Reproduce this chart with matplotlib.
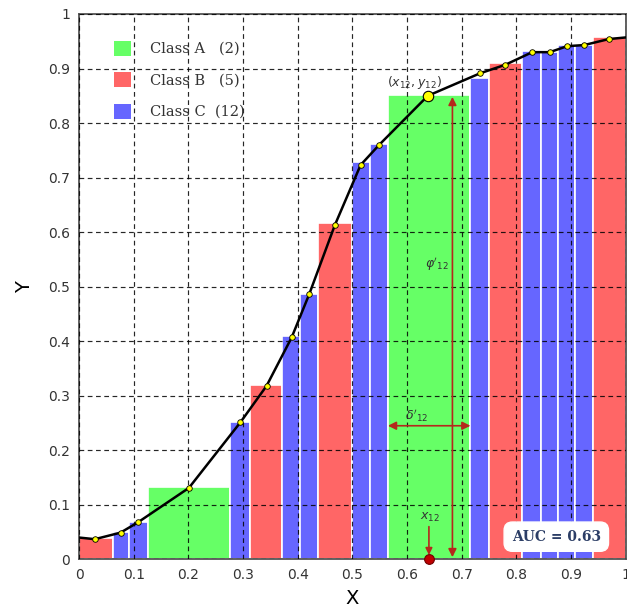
import matplotlib
matplotlib.use("Agg")
import matplotlib.pyplot as plt
from matplotlib.patches import Patch

# bar edges (19 bars) and heights
edges = [0, 0.062, 0.092, 0.127, 0.277, 0.312, 0.372, 0.405, 0.438, 0.500,
         0.533, 0.565, 0.716, 0.749, 0.810, 0.845, 0.876, 0.907, 0.941, 1.0]
heights = [0.040, 0.051, 0.069, 0.133, 0.252, 0.319, 0.410, 0.486, 0.616, 0.728,
           0.761, 0.851, 0.883, 0.910, 0.933, 0.931, 0.944, 0.943, 0.957]
classes = ['B', 'C', 'C', 'A', 'C', 'B', 'C', 'C', 'B', 'C',
           'C', 'A', 'C', 'B', 'C', 'C', 'C', 'C', 'B']

# sample points on the curve
dot_x = [0.029, 0.076, 0.108, 0.201, 0.295, 0.343, 0.389, 0.421, 0.468, 0.515,
         0.549, 0.638, 0.733, 0.780, 0.829, 0.861, 0.893, 0.924, 0.969]
dot_y = [0.037, 0.049, 0.068, 0.131, 0.251, 0.318, 0.407, 0.486, 0.613, 0.723,
         0.760, 0.850, 0.891, 0.907, 0.930, 0.930, 0.941, 0.943, 0.954]

# the curve itself (end points plus the dots)
curve_x = [0, 0.029, 0.076, 0.108, 0.201, 0.295, 0.343, 0.389, 0.421,
           0.468, 0.515, 0.549, 0.638, 0.733, 0.780, 0.829, 0.861, 0.893,
           0.924, 0.969, 1.0]
curve_y = [0.040, 0.037, 0.049, 0.068, 0.131, 0.251, 0.318, 0.407, 0.486,
           0.613, 0.723, 0.760, 0.850, 0.891, 0.907, 0.930, 0.930, 0.941,
           0.943, 0.954, 0.957]

class_colors = {'A': '#66ff66', 'B': '#ff6666', 'C': '#6666ff'}
class_names = ['A', 'B', 'C']
ticks = [0, 0.1, 0.2, 0.3, 0.4, 0.5, 0.6, 0.7, 0.8, 0.9, 1]
tick_labels = ['0', '0.1', '0.2', '0.3', '0.4', '0.5', '0.6', '0.7', '0.8', '0.9', '1']

k = 11          # the highlighted bar (x_12)
x12 = 0.640
auc = 0.63
ARROW = '#b5281c'

fig = plt.figure(figsize=(6.27, 6.08), dpi=100)
ax = fig.add_axes([0.126, 0.080, 0.872, 0.897])

lefts = edges[:-1]
widths = [edges[i + 1] - edges[i] for i in range(len(heights))]
ax.bar(lefts, heights, width=widths, align='edge',
       color=[class_colors[c] for c in classes],
       edgecolor='white', linewidth=1.2, zorder=1)

ax.grid(True, color='black', linestyle=(0, (4, 3)), linewidth=0.85, alpha=0.85,
        zorder=2)
ax.set_axisbelow(False)

ax.plot(curve_x, curve_y, color='black', lw=1.8, zorder=4)
ax.plot(dot_x, dot_y, 'o', color='#ffff00', mec='black', mew=0.6, ms=4, zorder=5)
ax.plot([dot_x[k]], [dot_y[k]], 'o', color='#ffff00', mec='black', mew=0.8,
        ms=7.5, zorder=6)

# annotations around the highlighted bar
ax.annotate('', xy=(0.683, heights[k] - 0.003), xytext=(0.683, 0.004),
            arrowprops=dict(arrowstyle='<|-|>', color=ARROW, lw=1.2,
                            mutation_scale=12, shrinkA=0, shrinkB=0), zorder=6)
ax.annotate('', xy=(edges[k], 0.245), xytext=(edges[k + 1], 0.245),
            arrowprops=dict(arrowstyle='<|-|>', color=ARROW, lw=1.2,
                            mutation_scale=12, shrinkA=0, shrinkB=0), zorder=6)
ax.annotate('', xy=(x12, 0.008), xytext=(x12, 0.060),
            arrowprops=dict(arrowstyle='-|>', color=ARROW, lw=1.2,
                            mutation_scale=10, shrinkA=0, shrinkB=0), zorder=6)
ax.plot([x12], [0], 'o', color='#c00000', mec='#700000', mew=0.8, ms=7,
        clip_on=False, zorder=7)

ax.text(0.613, 0.875, r'$(x_{12}, y_{12})$', ha='center', va='center',
        fontsize=9, color='#333333')
ax.text(0.655, 0.541, r"$\varphi'_{12}$", ha='center', va='center',
        fontsize=9, color='#333333')
ax.text(0.617, 0.264, r"$\delta'_{12}$", ha='center', va='center',
        fontsize=9, color='#333333')
ax.text(0.642, 0.077, r'$x_{12}$', ha='center', va='center',
        fontsize=9, color='#333333')

ax.text(0.873, 0.0416, 'AUC = %.2f' % auc, ha='center', va='center',
        fontsize=10, fontweight='bold', family='DejaVu Serif', color='#2c3e66',
        zorder=8,
        bbox=dict(boxstyle='round,pad=0.55,rounding_size=0.6', fc='white',
                  ec='white'))

counts = [classes.count(c) for c in class_names]
handles = [Patch(facecolor=class_colors[c], edgecolor='none') for c in class_names]
labels = ['Class %s  %4s' % (c, '(%d)' % n) for c, n in zip(class_names, counts)]
leg = ax.legend(handles, labels, loc='upper left', bbox_to_anchor=(0.04, 0.975),
                frameon=False, prop={'family': 'DejaVu Serif', 'size': 10.5},
                handlelength=1.2, handleheight=1.2, handletextpad=1.3,
                labelspacing=1.1)
for t in leg.get_texts():
    t.set_color('#333333')

ax.set_xlim(0, 1)
ax.set_ylim(0, 1)
ax.set_xticks(ticks)
ax.set_xticklabels(tick_labels)
ax.set_yticks(ticks)
ax.set_yticklabels(tick_labels)
ax.tick_params(length=0, pad=6.5, labelsize=10, labelcolor='#333333')
for s in ax.spines.values():
    s.set_color('#555555')
    s.set_linewidth(1.3)
ax.set_xlabel('X', fontsize=14, labelpad=5)
ax.set_ylabel('Y', fontsize=14, labelpad=10)

fig.savefig('out.png', dpi=100)
